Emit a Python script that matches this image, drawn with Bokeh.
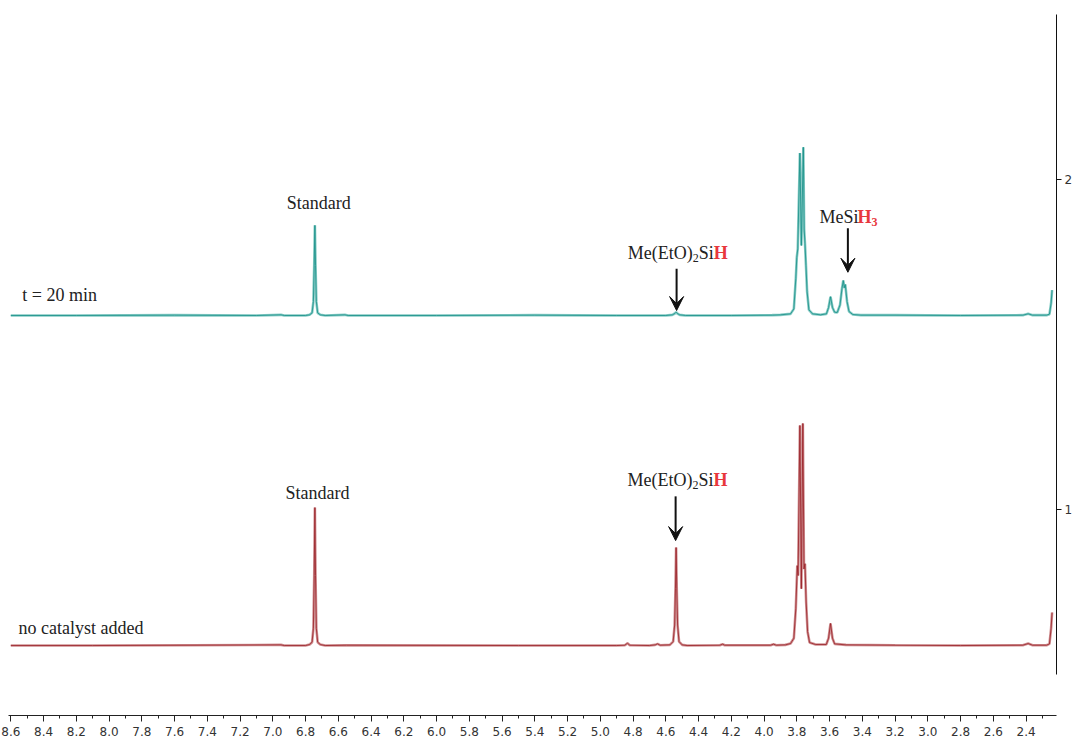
from bokeh.plotting import figure
from bokeh.models import (Range1d, LinearAxis, SingleIntervalTicker, FixedTicker,
                          PrintfTickFormatter, Arrow, VeeHead, ColumnDataSource)
from bokeh.core.properties import value
from bokeh.embed import file_html
from bokeh.resources import INLINE

# ---------------- data ----------------
top_ppm = [8.60, 8.20, 7.60, 7.10, 6.95, 6.93, 6.80, 6.775, 6.760, 6.752, 6.747, 6.743,
           6.739, 6.734, 6.726, 6.71, 6.68, 6.56, 6.54, 6.00, 5.40, 4.90, 4.60, 4.56,
           4.545, 4.537, 4.529, 4.515, 4.48, 4.20, 3.95, 3.90, 3.838, 3.818, 3.806,
           3.800, 3.794, 3.781, 3.772, 3.760, 3.755, 3.750, 3.744, 3.737, 3.726, 3.704,
           3.655, 3.619, 3.606, 3.594, 3.582, 3.569, 3.553, 3.536, 3.524, 3.516, 3.510,
           3.504, 3.493, 3.481, 3.458, 3.409, 3.20, 2.80, 2.42, 2.387, 2.36, 2.275,
           2.257, 2.247, 2.241]
top_int = [1.588, 1.588, 1.589, 1.588, 1.590, 1.588, 1.588, 1.590, 1.596, 1.630, 1.740, 1.861,
           1.740, 1.630, 1.596, 1.590, 1.588, 1.590, 1.588, 1.588, 1.589, 1.588, 1.588, 1.590,
           1.594, 1.598, 1.594, 1.590, 1.588, 1.588, 1.589, 1.590, 1.593, 1.608, 1.700,
           1.764, 1.790, 2.080, 1.800, 2.098, 1.850, 1.806, 1.740, 1.660, 1.605, 1.593,
           1.590, 1.593, 1.612, 1.645, 1.612, 1.598, 1.597, 1.620, 1.670, 1.694, 1.672,
           1.682, 1.630, 1.600, 1.591, 1.589, 1.589, 1.588, 1.589, 1.593, 1.589, 1.589,
           1.592, 1.625, 1.665]

bot_ppm = [8.60, 8.10, 7.50, 6.95, 6.93, 6.80, 6.775, 6.760, 6.752, 6.747, 6.743, 6.739,
           6.734, 6.726, 6.71, 6.68, 6.55, 5.50, 4.90, 4.85, 4.834, 4.82, 4.70, 4.665,
           4.650, 4.635, 4.575, 4.555, 4.546, 4.541, 4.537, 4.533, 4.528, 4.519, 4.50,
           4.47, 4.27, 4.253, 4.24, 3.96, 3.942, 3.925, 3.87, 3.838, 3.818, 3.806, 3.797,
           3.792, 3.781, 3.772, 3.763, 3.756, 3.750, 3.743, 3.734, 3.722, 3.685, 3.62,
           3.606, 3.594, 3.582, 3.569, 3.50, 3.20, 2.80, 2.42, 2.387, 2.36, 2.275, 2.257,
           2.247, 2.241]
bot_int = [0.588, 0.588, 0.589, 0.590, 0.588, 0.588, 0.591, 0.598, 0.640, 0.800, 1.006, 0.800,
           0.640, 0.598, 0.591, 0.588, 0.589, 0.588, 0.588, 0.589, 0.595, 0.589, 0.588, 0.590,
           0.593, 0.589, 0.590, 0.600, 0.650, 0.760, 0.885, 0.760, 0.650, 0.600, 0.590,
           0.588, 0.589, 0.592, 0.589, 0.589, 0.592, 0.589, 0.590, 0.594, 0.610, 0.700, 0.830,
           0.800, 1.255, 0.760, 1.261, 0.820, 0.836, 0.720, 0.630, 0.597, 0.591, 0.591,
           0.610, 0.655, 0.610, 0.593, 0.590, 0.589, 0.588, 0.589, 0.594, 0.589, 0.589, 0.593,
           0.640, 0.688]

y_ticks = [1, 2]

TEAL_PALE = "#86cbc5"
TEAL = "#178f87"
RED_PALE = "#d09294"
RED = "#981f25"
HRED = "#e8373c"
SERIF = "Liberation Serif"

p = figure(frame_width=1048, frame_height=701, output_backend="svg", toolbar_location=None,
           x_range=Range1d(8.614, 2.214), y_range=Range1d(0.376, 2.5),
           x_axis_location=None, y_axis_location=None,
           min_border_left=8, min_border_right=0, min_border_top=14, min_border_bottom=0)
p.outline_line_color = None
p.xgrid.visible = False
p.ygrid.visible = False
p.background_fill_color = "white"

xaxis = LinearAxis(ticker=SingleIntervalTicker(interval=0.2, num_minor_ticks=2),
                   formatter=PrintfTickFormatter(format="%.1f"))
xaxis.major_tick_in = 0
xaxis.major_tick_out = 6
xaxis.minor_tick_in = 0
xaxis.minor_tick_out = 3
xaxis.axis_line_color = "#222222"
xaxis.major_tick_line_color = "#222222"
xaxis.minor_tick_line_color = "#222222"
xaxis.major_label_text_font = "DejaVu Sans"
xaxis.major_label_text_font_size = "12px"
xaxis.major_label_text_color = "#333333"
xaxis.major_label_standoff = 5
p.add_layout(xaxis, "below")

yaxis = LinearAxis(ticker=FixedTicker(ticks=y_ticks, minor_ticks=[]), bounds=(0.5, 2.5))
yaxis.major_tick_in = 0
yaxis.major_tick_out = 5
yaxis.axis_line_color = "#111111"
yaxis.major_tick_line_color = "#111111"
yaxis.major_label_text_font = "DejaVu Sans"
yaxis.major_label_text_font_size = "12px"
yaxis.major_label_text_color = "#333333"
yaxis.major_label_standoff = 3
p.add_layout(yaxis, "right")

top_src = ColumnDataSource(dict(x=top_ppm, y=top_int))
bot_src = ColumnDataSource(dict(x=bot_ppm, y=bot_int))
p.line("x", "y", source=top_src, line_color=TEAL_PALE, line_width=2.6)
p.line("x", "y", source=top_src, line_color=TEAL, line_width=1.0, line_alpha=0.8)
p.line("x", "y", source=bot_src, line_color=RED_PALE, line_width=2.6)
p.line("x", "y", source=bot_src, line_color=RED, line_width=1.0, line_alpha=0.8)


def txt(x, y, s, size="18px", color="#222222", style="normal", align="left", dx=0, dy=0):
    p.text(x=[x], y=[y], text=[s], text_font=value(SERIF), text_font_size=size,
           text_color=color, text_font_style=style, text_align=align,
           text_baseline="alphabetic", x_offset=dx, y_offset=dy)


# trace names
txt(8.530, 1.650, "t = 20 min")
txt(8.553, 0.642, "no catalyst added")

# Standard labels
txt(6.719, 1.929, "Standard", align="center")
txt(6.727, 1.051, "Standard", align="center")


def silane_label(x, y):
    txt(x, y, "Me(EtO)")
    txt(x, y, "2", size="12px", dx=65, dy=5)
    txt(x, y, "Si", dx=71)
    txt(x, y, "H", color=HRED, style="bold", dx=86)


silane_label(4.832, 1.778)
silane_label(4.834, 1.091)

# MeSiH3 label
txt(3.661, 1.885, "MeSi")
txt(3.661, 1.885, "H", color=HRED, style="bold", dx=38)
txt(3.661, 1.885, "3", size="12px", color=HRED, style="bold", dx=52, dy=5)

# arrows
for (ax, y0, y1) in [(4.534, 1.730, 1.603), (4.540, 1.040, 0.906), (3.488, 1.852, 1.719)]:
    p.add_layout(Arrow(end=VeeHead(size=14, fill_color="#111111", line_color="#111111", line_width=1),
                       x_start=ax, y_start=y0, x_end=ax, y_end=y1,
                       line_color="#111111", line_width=2))

open("out.html", "w").write(file_html(p, INLINE))
